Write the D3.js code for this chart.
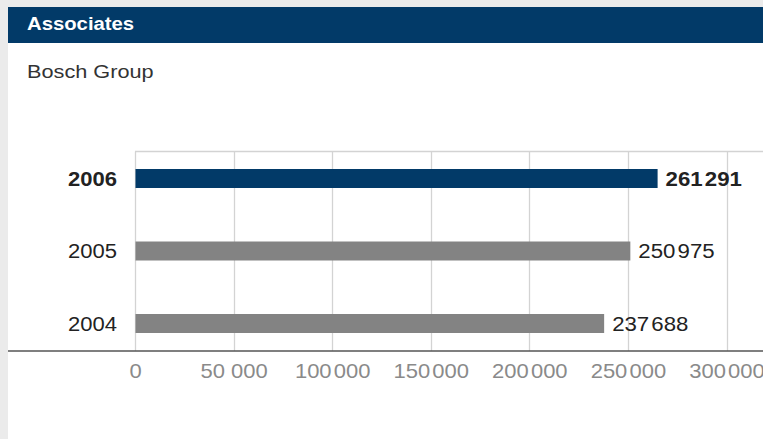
<!DOCTYPE html>
<html><head><meta charset="utf-8">
<script src="https://cdn.jsdelivr.net/npm/d3@7"></script>
<style>
html,body{margin:0;padding:0;background:#ebebeb;}
svg{display:block;font-family:"Liberation Sans",Arial,sans-serif;}
</style></head>
<body>
<svg id="c" width="763" height="439"></svg>
<script>
const years = ["2006", "2005", "2004"];
// bar lengths (2006 bar is drawn slightly longer than its label)
const barValues = [264800, 250975, 237688];
const valueLabels = [["261", "291"], ["250", "975"], ["237", "688"]];
const tickValues = [0, 50000, 100000, 150000, 200000, 250000, 300000];
const tickLabels = [["0"], ["50", "000", "wide"], ["100", "000"], ["150", "000"], ["200", "000"], ["250", "000"], ["300", "000"]];
const highlightYear = "2006";

(function () {
const svg = d3.select("#c");
// helper: writes grouped number with a narrow (or normal) space
function writeNum(sel, parts, fs) {
  sel.append("tspan").text(parts[0]);
  if (parts.length > 1) {
    if (parts[2] === "wide") sel.append("tspan").text(" ");
    else sel.append("tspan").attr("font-size", fs * 0.35).text(" ");
    sel.append("tspan").text(parts[1]);
  }
}

svg.append("rect").attr("x", 8).attr("y", 7).attr("width", 755).attr("height", 432).attr("fill", "#fff");
svg.append("rect").attr("x", 8).attr("y", 7).attr("width", 755).attr("height", 36).attr("fill", "#023a68");
svg.append("text").attr("transform", "translate(27,30) scale(1.16,1)").attr("fill", "#fff")
  .attr("font-size", 17.5).attr("font-weight", "bold").text("Associates");
svg.append("text").attr("transform", "translate(27,78) scale(1.22,1)").attr("fill", "#333")
  .attr("font-size", 17.8).text("Bosch Group");

const x = d3.scaleLinear().domain([0, 300000]).range([135, 726.5]);
const y = d3.scaleBand().domain(years).range([142.25, 359.75]);
const barH = 19;
const plotTop = 151.5, plotBottom = 351;

const grid = svg.append("g");
grid.selectAll("line.v").data(tickValues).join("line")
  .attr("x1", d => Math.round(x(d)) + 0.5).attr("x2", d => Math.round(x(d)) + 0.5)
  .attr("y1", plotTop).attr("y2", plotBottom).attr("stroke", "#d3d3d3").attr("stroke-width", 1.3);
grid.append("line").attr("x1", x(0)).attr("x2", 763).attr("y1", plotTop).attr("y2", plotTop)
  .attr("stroke", "#d3d3d3").attr("stroke-width", 1.3);

const axis = d3.axisBottom(x).tickValues(tickValues).tickSize(0).tickFormat(() => "");
const ag = svg.append("g").attr("transform", `translate(0,${plotBottom})`).call(axis);
ag.select(".domain").remove();
ag.selectAll(".tick text").each(function (d, i) {
  const t = d3.select(this).attr("fill", "#8a8a8a").attr("font-size", 20).attr("dy", 0).attr("y", 27)
    .attr("transform", "scale(1.1,1)")
    .attr("font-family", "Liberation Sans, Arial, sans-serif");
  writeNum(t, tickLabels[i], 20);
});
svg.append("line").attr("x1", 8).attr("x2", 763).attr("y1", plotBottom).attr("y2", plotBottom)
  .attr("stroke", "#555").attr("stroke-width", 1.5);

const data = years.map((yr, i) => ({yr, v: barValues[i], lab: valueLabels[i]}));
svg.selectAll("rect.bar").data(data).join("rect")
  .attr("x", x(0) + 0.5).attr("y", d => y(d.yr) + y.bandwidth() / 2 - barH / 2)
  .attr("width", d => x(d.v) - x(0)).attr("height", barH)
  .attr("fill", d => d.yr === highlightYear ? "#023a68" : "#838383");

svg.selectAll("text.val").data(data).join("text")
  .attr("transform", d => `translate(${x(d.v) + 8.5},${y(d.yr) + y.bandwidth() / 2 + 7}) scale(1.14,1)`)
  .attr("font-size", 19.5).attr("fill", "#222")
  .attr("font-weight", d => d.yr === highlightYear ? "bold" : "normal")
  .each(function (d) { writeNum(d3.select(this), d.lab, 19.5); });

svg.selectAll("text.yr").data(data).join("text")
  .attr("transform", d => `translate(117,${y(d.yr) + y.bandwidth() / 2 + 7}) scale(1.13,1)`)
  .attr("text-anchor", "end").attr("font-size", 19.5).attr("fill", "#222")
  .attr("font-weight", d => d.yr === highlightYear ? "bold" : "normal")
  .text(d => d.yr);
})();
</script>
</body></html>
